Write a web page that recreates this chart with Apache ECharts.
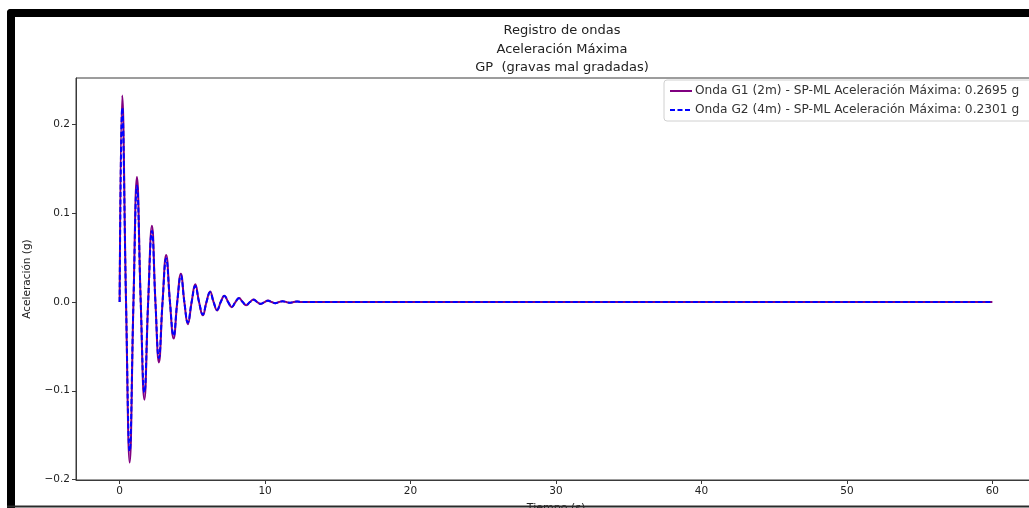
<!DOCTYPE html>
<html>
<head>
<meta charset="utf-8">
<script src="https://cdn.jsdelivr.net/npm/echarts@6/dist/echarts.min.js"></script>
<style>
html,body{margin:0;padding:0;background:#fff;}
#chart{width:1029px;height:508px;}
</style>
</head>
<body>
<div id="chart"></div>
<script>
// ---- data ----
var titleLines = ['Registro de ondas', 'Aceleración Máxima', 'GP  (gravas mal gradadas)'];
var seriesNames = [
  'Onda G1 (2m) - SP-ML Aceleración Máxima: 0.2695 g',
  'Onda G2 (4m) - SP-ML Aceleración Máxima: 0.2301 g'
];
var xTicks = [0, 10, 20, 30, 40, 50, 60];
var yTicks = [-0.2, -0.1, 0.0, 0.1, 0.2];
// time (s): peaks, troughs and zero crossings
var times = [0, 0.18, 0.44, 0.69, 0.95, 1.19, 1.45, 1.70, 1.96, 2.22, 2.46, 2.70, 2.95, 3.20, 3.46, 3.71,
  3.96, 4.21, 4.45, 4.69, 4.95, 5.20, 5.46, 5.72, 5.97, 6.22, 6.46, 6.70, 6.95, 7.20, 7.46, 7.71,
  7.96, 8.20, 8.46, 8.70, 8.96, 9.20, 9.46, 9.70, 9.96, 10.20, 10.46, 10.70, 10.96, 11.20, 11.46, 11.70,
  11.96, 12.20, 12.50, 60];
var g1 = [0, 0.233, 0, -0.181, 0, 0.141, 0, -0.110, 0, 0.086, 0, -0.068, 0, 0.053, 0, -0.041,
  0, 0.032, 0, -0.025, 0, 0.020, 0, -0.015, 0, 0.012, 0, -0.0094, 0, 0.0072, 0, -0.0058,
  0, 0.0045, 0, -0.0036, 0, 0.0028, 0, -0.0022, 0, 0.0017, 0, -0.0013, 0, 0.0010, 0, -0.0008,
  0, 0.0006, 0, 0];
var g2 = [0, 0.219, 0, -0.168, 0, 0.131, 0, -0.102, 0, 0.080, 0, -0.063, 0, 0.049, 0, -0.038,
  0, 0.030, 0, -0.023, 0, 0.018, 0, -0.014, 0, 0.011, 0, -0.0087, 0, 0.0067, 0, -0.0054,
  0, 0.0042, 0, -0.0033, 0, 0.0026, 0, -0.0020, 0, 0.0016, 0, -0.0012, 0, 0.0009, 0, -0.0007,
  0, 0.0005, 0, 0];

function pairs(xs, ys){ return xs.map(function(x,i){ return [x, ys[i]]; }); }
var FONT = 'DejaVu Sans';
var AX = '#3a3a3a';

var chart = echarts.init(document.getElementById('chart'), null, {renderer:'canvas'});
chart.setOption({
  backgroundColor: '#ffffff',
  animation: false,
  title: {
    text: titleLines.join('\n'),
    left: 557, top: 17, textAlign: 'center',
    textStyle: {fontFamily: FONT, fontSize: 13, fontWeight: 'normal', color: '#222', lineHeight: 18.2}
  },
  legend: {
    orient: 'vertical', left: 664, top: 80,
    itemWidth: 22, itemHeight: 10, itemGap: 5,
    padding: [4, 14, 4, 5],
    borderColor: '#d0d0d0', borderWidth: 1, borderRadius: 3,
    backgroundColor: 'rgba(255,255,255,0.8)',
    itemStyle: {opacity: 0},
    textStyle: {fontFamily: FONT, fontSize: 12.2, color: '#333', padding: [0,0,0,-2], lineHeight: 14},
    data: seriesNames
  },
  grid: {left: 76, top: 78, width: 960, height: 402, show: true, borderColor: AX, borderWidth: 1,
    containLabel: false, outerBoundsMode: 'none'},
  xAxis: {
    type: 'value', min: -3, max: 63,
    name: 'Tiempo (s)', nameLocation: 'middle', nameGap: 23,
    nameTextStyle: {fontFamily: FONT, fontSize: 11, color: '#222'},
    axisLine: {show: true, onZero: false, lineStyle: {color: AX, width: 1}},
    axisTick: {show: true, inside: false, length: 4, customValues: xTicks, lineStyle: {color: AX}},
    axisLabel: {customValues: xTicks, fontFamily: FONT, fontSize: 10.5, color: '#222', margin: 6,
      formatter: function(v){ return String(v); }},
    splitLine: {show: false}
  },
  yAxis: {
    type: 'value', min: -0.2006, max: 0.2526,
    name: 'Aceleración (g)', nameLocation: 'middle', nameGap: 43, nameRotate: 90,
    nameTextStyle: {fontFamily: FONT, fontSize: 10.5, color: '#222'},
    axisLine: {show: true, onZero: false, lineStyle: {color: AX, width: 1}},
    axisTick: {show: true, inside: false, length: 4, customValues: yTicks, lineStyle: {color: AX}},
    axisLabel: {customValues: yTicks, fontFamily: FONT, fontSize: 10.5, color: '#222', margin: 6,
      formatter: function(v){ var s = Math.abs(v).toFixed(1); return (v < -1e-9 ? '\u2212' : '') + s; }},
    splitLine: {show: false}
  },
  graphic: [
    {type: 'rect', shape: {x: 7, y: 9, width: 1040, height: 8, r: [4,0,0,0]}, style: {fill: '#000'}, z: 100},
    {type: 'rect', shape: {x: 7, y: 9, width: 8, height: 510, r: [4,0,0,0]}, style: {fill: '#000'}, z: 100},
    {type: 'rect', shape: {x: 7, y: 505.5, width: 1040, height: 2}, style: {fill: '#2a2a2a'}, z: 100}
  ],
  series: [
    {name: seriesNames[0], type: 'line', data: pairs(times, g1), showSymbol: false, symbol: 'none',
     smooth: 0.45, lineStyle: {color: '#800080', width: 2}, itemStyle: {color: '#800080'}, z: 2},
    {name: seriesNames[1], type: 'line', data: pairs(times, g2), showSymbol: false, symbol: 'none',
     smooth: 0.45, lineStyle: {color: '#0000ff', width: 2, type: [5, 2.5]}, itemStyle: {color: '#0000ff'}, z: 3}
  ]
});
</script>
</body>
</html>
